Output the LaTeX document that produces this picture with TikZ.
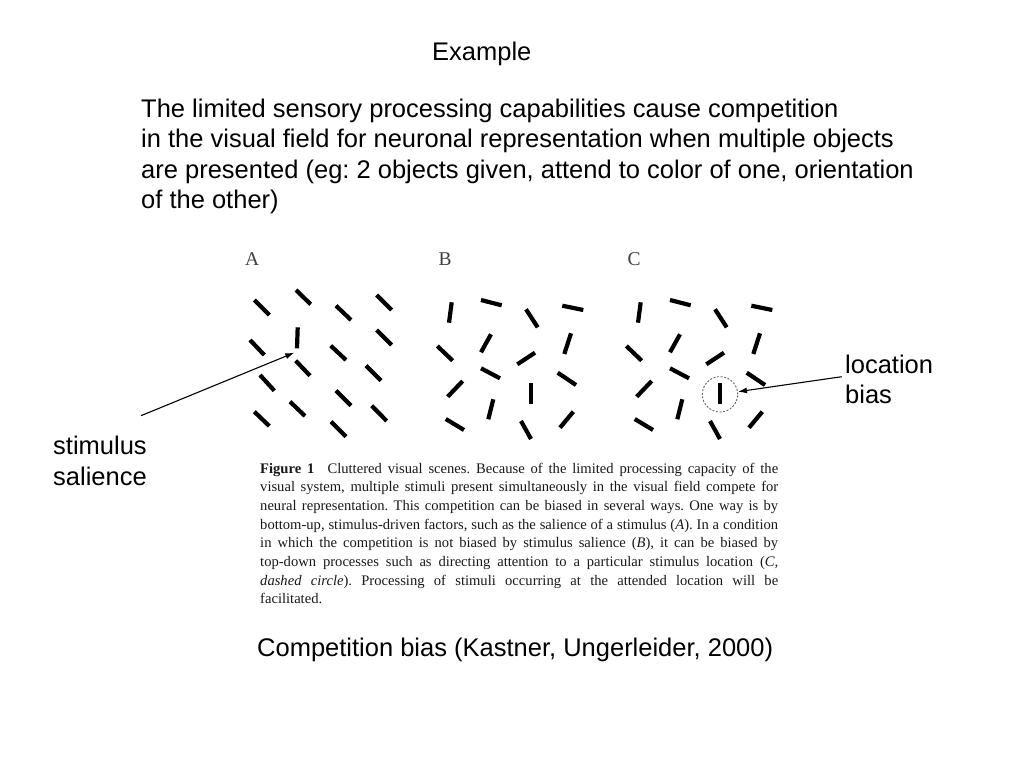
\documentclass[tikz,border=0pt]{standalone}
\usepackage{fontspec}
\setmainfont{Liberation Sans}
\newfontfamily\capfont{Liberation Serif}
\usetikzlibrary{arrows.meta}
\frenchspacing
\newcommand\panelbars{%
  \draw[stim] (451.7,302.3) -- (449,322.7);
  \draw[stim] (481,300) -- (501.7,305.3);
  \draw[stim] (526,309.3) -- (537.7,327.3);
  \draw[stim] (562.3,305.7) -- (583.3,310);
  \draw[stim] (491,334.3) -- (481,352.3);
  \draw[stim] (571,333.3) -- (564.3,354);
  \draw[stim] (437.3,346) -- (452.7,360.7);
  \draw[stim] (535,352.7) -- (517.3,364.3);
  \draw[stim] (481,368.3) -- (500,378.3);
  \draw[stim] (557.7,372.7) -- (576,385);
  \draw[stim] (462.7,381) -- (447.7,396.7);
  \draw[stim] (531,383.3) -- (531,404.3);
  \draw[stim] (493.3,399.3) -- (488.3,419.3);
  \draw[stim] (573.3,411.7) -- (560,427.7);
  \draw[stim] (445.7,419) -- (464,430);
  \draw[stim] (521,421) -- (531,439);
}
\begin{document}
\frenchspacing
\begin{tikzpicture}[x=1pt,y=-1pt,
  stim/.style={line width=4.2pt},
  lbl/.style={inner sep=0pt, anchor=base west, font=\fontsize{25.5}{30.6}\selectfont},
  panel/.style={inner sep=0pt, anchor=base west, text=black!75, font=\capfont\fontsize{19.5}{22}\selectfont},
  arr/.style={line width=1.1pt, -{Latex[length=9pt,width=6pt]}}]
\useasboundingbox[fill=white] (0,0) rectangle (1024,768);

% heading and introduction
\node[lbl] (title) at (432,60) {Example};
\node[lbl] (intro) at (141,117) {\parbox[t]{820pt}{\fontsize{25.5}{30.6}\selectfont\frenchspacing
  The limited sensory processing capabilities cause competition\\
  in the visual field for neuronal representation when multiple objects\\
  are presented (eg: 2 objects given, attend to color of one, orientation\\
  of the other)}};

% panel letters
\node[panel] (pa) at (245,265) {A};
\node[panel] (pb) at (438.3,265) {B};
\node[panel] (pc) at (627.3,265) {C};

% panel A
\draw[stim] (254.3,300) -- (269.3,315);
\draw[stim] (296,290) -- (310.7,304.3);
\draw[stim] (336,305.7) -- (351,320);
\draw[stim] (376.7,295) -- (391.7,310);
\draw[stim] (297.7,327.3) -- (297,348.3);
\draw[stim] (250,340) -- (264.3,355);
\draw[stim] (330.7,345.7) -- (346,360);
\draw[stim] (376.7,330) -- (391.7,345);
\draw[stim] (295.7,360.7) -- (310,375.7);
\draw[stim] (366,365.7) -- (381,380.7);
\draw[stim] (260,375) -- (274.3,390.7);
\draw[stim] (336,390.7) -- (351,405.7);
\draw[stim] (290,401.7) -- (305,416);
\draw[stim] (254.3,411.7) -- (269.3,426);
\draw[stim] (371.7,405.7) -- (386.7,421);
\draw[stim] (331,421.7) -- (346,436.7);

% panel B
\panelbars
% panel C
\begin{scope}[xshift=189pt]
\panelbars
\end{scope}
\node[circle, draw=black!60, line width=0.9pt, dash pattern=on 2pt off 1.6pt,
      minimum size=35.4pt, inner sep=0pt] (focus) at (720,394.3) {};

% caption of the figure
\node[inner sep=0pt, anchor=base west, text=black!90] (fig) at (260,473) {\parbox[t]{518pt}{%
  \capfont\fontsize{14.6}{18.7}\selectfont\frenchspacing
  \hbox to 518pt{\textbf{Figure 1}\hspace{0.9em}Cluttered visual scenes. Because of the limited processing capacity of the}
  \hbox to 518pt{visual system, multiple stimuli present simultaneously in the visual field compete for}
  \hbox to 518pt{neural representation. This competition can be biased in several ways. One way is by}
  \hbox to 518pt{bottom-up, stimulus-driven factors, such as the salience of a stimulus (\textit{A}). In a condition}
  \hbox to 518pt{in which the competition is not biased by stimulus salience (\textit{B}), it can be biased by}
  \hbox to 518pt{top-down processes such as directing attention to a particular stimulus location (\textit{C,}}
  \hbox to 518pt{\textit{dashed circle}). Processing of stimuli occurring at the attended location will be}
  \hbox{facilitated.}}};

% side labels and arrows
\node[lbl] (salience) at (53,454) {\parbox[t]{150pt}{\fontsize{25.5}{31}\selectfont stimulus\\salience}};
\node[lbl] (locbias) at (845,373.3) {\parbox[t]{150pt}{\fontsize{25.5}{30}\selectfont location\\bias}};
\coordinate (s0) at (141,415.7);
\coordinate (s1) at (294.3,352.7);
\draw[arr] (s0) -- (s1);
\coordinate (l0) at (841.7,376.7);
\draw[arr] (l0) -- (focus);

% bottom caption
\node[lbl] (cite) at (257,656) {Competition bias (Kastner, Ungerleider, 2000)};
\end{tikzpicture}
\end{document}
